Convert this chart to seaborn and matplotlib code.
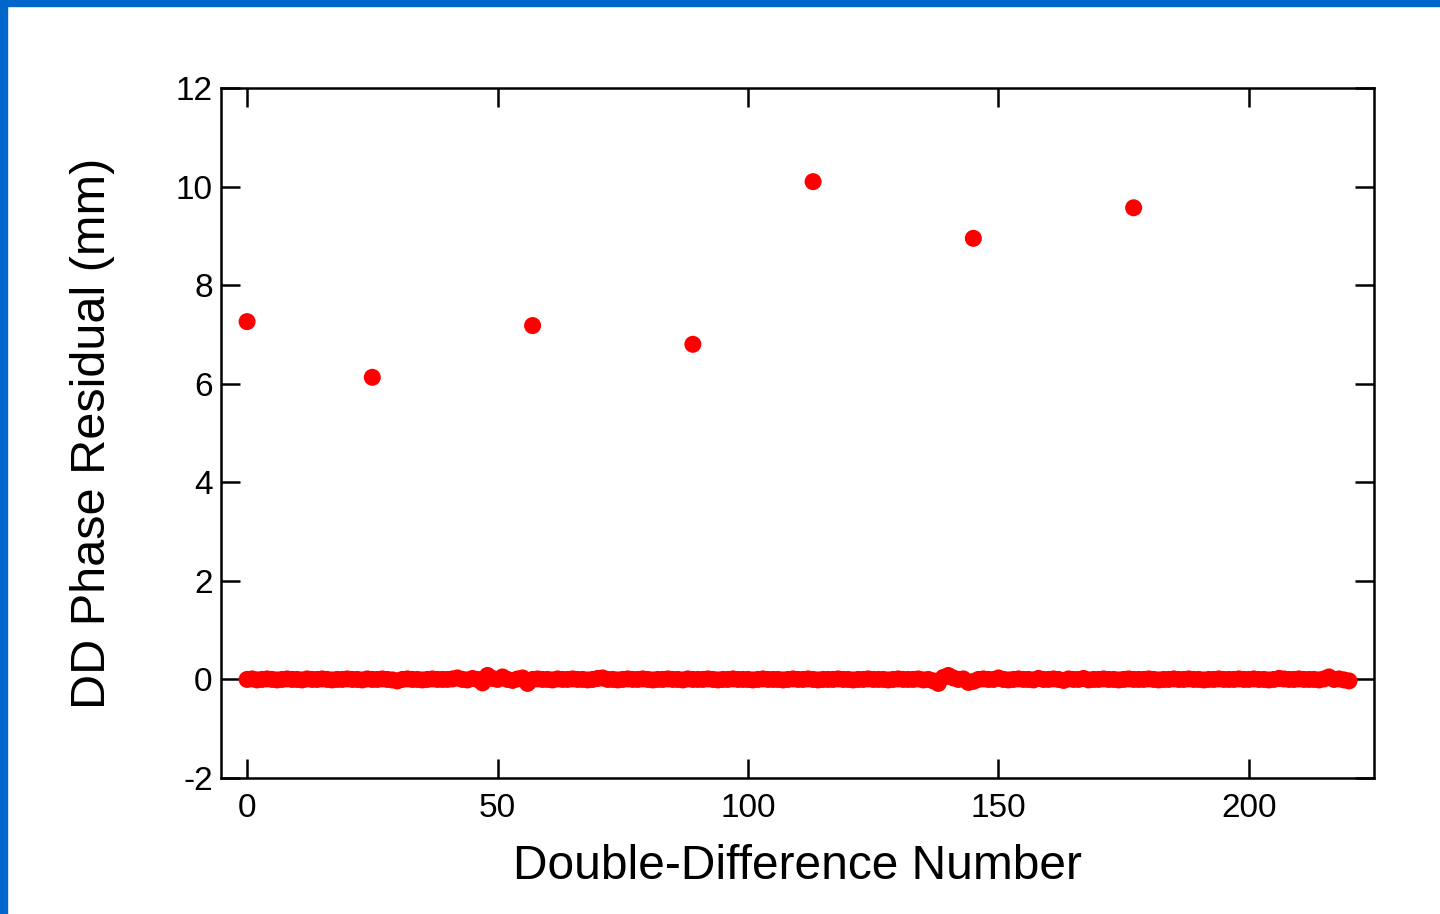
import numpy as np
import pandas as pd
import matplotlib.pyplot as plt
import seaborn as sns
from matplotlib.patches import Rectangle

# residuos das duplas diferencas (mm)
residuos = [
    0.00, 0.01, -0.01, 0.00, 0.01, 0.00, -0.01, 0.00, 0.01, 0.00,
    0.00, -0.01, 0.01, 0.00, 0.00, 0.01, 0.00, -0.01, 0.00, 0.00,
    0.01, 0.00, 0.00, -0.01, 0.01, 0.00, 0.00, 0.01, 0.00, -0.01,
    -0.03, 0.00, 0.01, 0.00, 0.00, -0.01, 0.00, 0.01, 0.00, 0.00,
    0.00, 0.01, 0.03, 0.00, -0.01, 0.02, 0.00, -0.07, 0.08, 0.02,
    0.00, 0.05, 0.00, -0.02, 0.01, 0.03, -0.08, 0.00, 0.01, 0.00,
    0.00, -0.01, 0.01, 0.00, 0.00, 0.01, 0.00, 0.00, -0.01, 0.00,
    0.02, 0.03, 0.00, 0.00, -0.01, 0.00, 0.01, 0.00, 0.00, 0.01,
    0.00, -0.01, 0.00, 0.00, 0.01, 0.00, 0.00, -0.01, 0.01, 0.00,
    0.00, 0.00, 0.01, 0.00, -0.01, 0.00, 0.00, 0.01, 0.00, 0.00,
    0.00, -0.01, 0.00, 0.01, 0.00, 0.00, 0.00, -0.01, 0.00, 0.01,
    0.00, 0.00, 0.01, 0.00, -0.01, 0.00, 0.00, 0.00, 0.01, 0.00,
    0.00, -0.01, 0.00, 0.00, 0.01, 0.00, 0.00, 0.00, -0.01, 0.00,
    0.01, 0.00, 0.00, 0.00, 0.01, -0.01, 0.00, -0.03, -0.08, 0.04,
    0.08, 0.03, 0.00, 0.01, -0.06, -0.04, 0.00, 0.01, 0.00, 0.00,
    0.03, 0.00, -0.01, 0.00, 0.01, 0.00, 0.00, -0.01, 0.02, 0.00,
    0.00, 0.01, 0.00, -0.02, 0.01, 0.00, 0.00, 0.02, -0.01, 0.00,
    0.00, 0.01, 0.00, 0.00, -0.01, 0.00, 0.01, 0.00, 0.00, 0.00,
    0.01, 0.00, -0.01, 0.00, 0.00, 0.01, 0.00, 0.00, 0.01, 0.00,
    0.00, -0.01, 0.00, 0.00, 0.01, 0.00, 0.00, 0.00, 0.01, 0.00,
    0.00, 0.01, 0.00, 0.00, -0.01, 0.00, 0.02, 0.01, 0.00, 0.00,
    0.01, 0.00, 0.00, 0.00, -0.01, 0.01, 0.05, 0.00, 0.01, -0.01,
    -0.03,
]
dd_num = list(range(len(residuos)))

# pontos fora da curva
outlier_num = [0, 25, 57, 89, 113, 145, 177]
outlier_res = [7.26, 6.13, 7.18, 6.80, 10.10, 8.95, 9.57]

df = pd.DataFrame({'dd': dd_num + outlier_num, 'res': residuos + outlier_res})

sns.set_style('ticks')
plt.rcParams['font.family'] = ['Liberation Sans', 'DejaVu Sans']
plt.rcParams['axes.unicode_minus'] = False

fig = plt.figure(figsize=(14.4, 9.14), dpi=100)
ax = fig.add_axes([0.1535, 0.1488, 0.8007, 0.7549])

sns.scatterplot(data=df, x='dd', y='res', color='#ff0000', s=150,
                edgecolor='none', linewidth=0, ax=ax, zorder=3)

ax.set_xlim(-5.2, 225)
ax.set_ylim(-2, 12)
ax.set_xticks([0, 50, 100, 150, 200])
ax.set_yticks([-2, 0, 2, 4, 6, 8, 10, 12])
ax.tick_params(direction='in', length=14, width=1.8, top=True, right=True,
               labelsize=24, colors='black', labelcolor='black', pad=6)
ax.tick_params(axis='x', pad=11)
for sp in ax.spines.values():
    sp.set_visible(True)
    sp.set_linewidth(1.8)
    sp.set_color('black')

ax.set_xlabel('Double-Difference Number', fontsize=34.5, labelpad=14, color='black')
ax.set_ylabel('DD Phase Residual (mm)', fontsize=35, labelpad=44, color='black')

# moldura azul
fig.patches.append(Rectangle((0, 1 - 6 / 914), 1, 6 / 914, transform=fig.transFigure,
                             color='#0066cc', zorder=10))
fig.patches.append(Rectangle((0, 0), 7 / 1440, 1, transform=fig.transFigure,
                             color='#0066cc', zorder=10))

fig.savefig('out.png', dpi=100)
